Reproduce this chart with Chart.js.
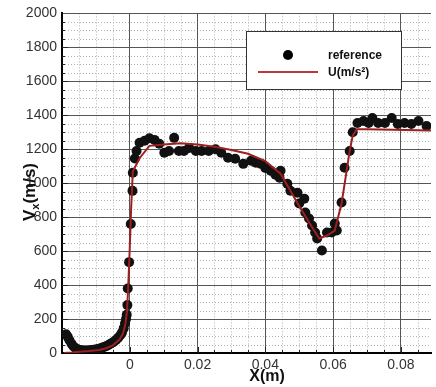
<!DOCTYPE html>
<html><head><meta charset="utf-8">
<script src="https://cdn.jsdelivr.net/npm/chart.js@4.4.1/dist/chart.umd.min.js"></script>
<style>html,body{margin:0;padding:0;background:#fff}canvas{display:block}</style>
</head><body>
<canvas id="c" width="436" height="387"></canvas>
<script>
// reference data (black dots)
const refX = [-0.0188,-0.0183,-0.0178,-0.0172,-0.0166,-0.0160,-0.0154,-0.0148,-0.0142,-0.0136,-0.0130,-0.0124,-0.0118,-0.0112,-0.0106,-0.0100,-0.0094,-0.0088,-0.0082,-0.0076,-0.0070,-0.0064,-0.0058,-0.0052,-0.0046,-0.0040,-0.0034,-0.0028,-0.0023,-0.0018,-0.0014,-0.0011,-0.0009,-0.0007,-0.0006,-0.0002,0.0003,0.0008,0.0009,0.0015,0.0020,0.0029,0.0044,0.0058,0.0073,0.0087,0.0102,0.0116,0.0131,0.0145,0.0160,0.0175,0.0195,0.0212,0.0233,0.0253,0.0270,0.0290,0.0311,0.0335,0.0358,0.0372,0.0387,0.0400,0.0416,0.0430,0.0442,0.0445,0.0465,0.0474,0.0495,0.0500,0.0515,0.0518,0.0529,0.0538,0.0547,0.0553,0.0567,0.0582,0.0596,0.0605,0.0611,0.0625,0.0634,0.0649,0.0658,0.0672,0.0690,0.0705,0.0716,0.0733,0.0753,0.0773,0.0791,0.0811,0.0831,0.0852,0.0876];
const refY = [110,95,75,55,38,28,22,18,16,15,15,15,16,17,19,21,24,27,31,35,40,46,53,60,68,78,90,105,120,145,175,200,225,282,380,535,760,955,1062,1145,1190,1238,1250,1265,1255,1232,1180,1190,1267,1190,1190,1208,1190,1190,1190,1200,1179,1150,1144,1114,1132,1120,1114,1090,1073,1050,1032,1073,997,956,944,880,909,827,792,751,710,674,604,710,710,762,721,886,1091,1190,1300,1355,1366,1355,1384,1355,1355,1384,1349,1355,1349,1366,1337];
// U(m/s^2) curve
const lineX = [-0.0195,-0.017,-0.015,-0.012,-0.009,-0.007,-0.005,-0.003,-0.002,-0.0013,-0.0008,-0.0004,0,0.0004,0.0009,0.003,0.0058,0.010,0.015,0.020,0.025,0.030,0.0349,0.040,0.0445,0.0503,0.0544,0.0559,0.0582,0.0605,0.0625,0.064,0.0649,0.0658,0.0670,0.0700,0.0889];
const lineY = [0,3,8,12,18,28,45,80,115,170,250,420,620,850,1070,1150,1220,1228,1235,1228,1215,1195,1173,1130,1056,856,721,674,692,721,880,1073,1190,1280,1318,1318,1310];
const xTicks = [0,0.02,0.04,0.06,0.08];
const xTickLabels = ['0','0.02','0.04','0.06','0.08'];
const yTicks = [0,200,400,600,800,1000,1200,1400,1600,1800,2000];
const yTickLabels = ['0','200','400','600','800','1000','1200','1400','1600','1800','2000'];
const seriesNames = ['reference','U(m/s\u00B2)'];

const FONT = '"Liberation Sans", Arial, sans-serif';

const decor = {
  id: 'decor',
  beforeDraw(chart) {
    const {ctx, chartArea: a, scales: {x, y}} = chart;
    ctx.save();
    ctx.fillStyle = '#fff';
    ctx.fillRect(0, 0, chart.width, chart.height);
    ctx.strokeStyle = '#b0b0b0';
    ctx.lineWidth = 1;
    ctx.setLineDash([1, 2]);
    ctx.beginPath();
    for (let v = -0.015; v < 0.089; v += 0.005) {
      const r = Math.round(v * 1000) / 1000;
      if (Math.abs(r / 0.02 - Math.round(r / 0.02)) < 1e-6) continue;
      const px = Math.round(x.getPixelForValue(r)) + 0.5;
      ctx.moveTo(px, a.top); ctx.lineTo(px, a.bottom);
    }
    for (let v = 50; v < 2000; v += 50) {
      if (v % 200 === 0) continue;
      const py = Math.round(y.getPixelForValue(v)) + 0.5;
      ctx.moveTo(a.left, py); ctx.lineTo(a.right, py);
    }
    ctx.stroke();
    ctx.restore();
  },
  beforeDatasetsDraw(chart) {
    const {ctx, chartArea: a, scales: {x, y}} = chart;
    ctx.save();
    ctx.strokeStyle = '#222';
    ctx.lineWidth = 1;
    ctx.beginPath();
    for (let v = -0.015; v < 0.089; v += 0.005) {
      const r = Math.round(v * 1000) / 1000;
      const major = Math.abs(r / 0.02 - Math.round(r / 0.02)) < 1e-6;
      const px = Math.round(x.getPixelForValue(r)) + 0.5;
      ctx.moveTo(px, a.bottom); ctx.lineTo(px, a.bottom - (major ? 6 : 3));
    }
    for (let v = 50; v < 2000; v += 50) {
      const py = Math.round(y.getPixelForValue(v)) + 0.5;
      ctx.moveTo(a.left, py); ctx.lineTo(a.left + (v % 200 === 0 ? 6 : 3), py);
    }
    ctx.stroke();
    ctx.restore();
  },
  afterDraw(chart) {
    const {ctx, chartArea: a, scales: {x}} = chart;
    ctx.save();
    // x title
    ctx.fillStyle = '#111';
    ctx.font = 'bold 16px ' + FONT;
    ctx.textAlign = 'center';
    ctx.textBaseline = 'middle';
    ctx.fillText('X(m)', x.getPixelForValue(0.0405), 377);
    // y title with subscript
    ctx.translate(29, 192);
    ctx.rotate(-Math.PI / 2);
    const big = 'bold 17px ' + FONT, small = 'bold 11px ' + FONT;
    ctx.font = big; const wV = ctx.measureText('V').width; const wR = ctx.measureText('(m/s)').width;
    ctx.font = small; const wx = ctx.measureText('x').width;
    let sx = -(wV + wx + wR) / 2;
    ctx.textAlign = 'left'; ctx.textBaseline = 'alphabetic';
    ctx.font = big; ctx.fillText('V', sx, 6); sx += wV;
    ctx.font = small; ctx.fillText('x', sx, 10); sx += wx;
    ctx.font = big; ctx.fillText('(m/s)', sx, 6);
    ctx.setTransform(1, 0, 0, 1, 0, 0);
    // legend
    ctx.fillStyle = '#fff';
    ctx.fillRect(246, 31, 156, 59);
    ctx.strokeStyle = '#333';
    ctx.lineWidth = 1;
    ctx.strokeRect(246.5, 31.5, 155, 58);
    ctx.fillStyle = '#000';
    ctx.beginPath(); ctx.arc(288, 55, 5, 0, Math.PI * 2); ctx.fill();
    ctx.strokeStyle = '#b83a3a'; ctx.lineWidth = 2;
    ctx.beginPath(); ctx.moveTo(258, 72); ctx.lineTo(318, 72); ctx.stroke();
    ctx.fillStyle = '#111';
    ctx.font = 'bold 12px ' + FONT;
    ctx.textAlign = 'left'; ctx.textBaseline = 'middle';
    ctx.fillText(seriesNames[0], 328, 56);
    ctx.fillText(seriesNames[1], 328, 73);
    ctx.restore();
  }
};

new Chart(document.getElementById('c'), {
  type: 'scatter',
  data: {
    datasets: [
      {
        label: seriesNames[1],
        data: lineX.map((v, i) => ({x: v, y: lineY[i]})),
        showLine: true,
        borderColor: '#9e1f1f',
        borderWidth: 2,
        pointRadius: 0,
        tension: 0,
        order: 0
      },
      {
        label: seriesNames[0],
        data: refX.map((v, i) => ({x: v, y: refY[i]})),
        backgroundColor: '#111',
        borderWidth: 0,
        pointRadius: 5,
        pointHoverRadius: 5,
        order: 1
      }
    ]
  },
  options: {
    responsive: false,
    animation: false,
    devicePixelRatio: 1,
    layout: {padding: {top: 12, right: 0, bottom: 0, left: 0}},
    plugins: {legend: {display: false}, tooltip: {enabled: false}},
    scales: {
      x: {
        type: 'linear', position: 'bottom', min: -0.02, max: 0.0889,
        afterBuildTicks: s => { s.ticks = xTicks.map(v => ({value: v})); },
        afterFit: s => { s.height = 34; },
        ticks: {
          callback: (v, i) => xTickLabels[i],
          font: {family: FONT, size: 14}, color: '#333', padding: 4, maxRotation: 0, autoSkip: false
        },
        grid: {color: '#555', lineWidth: 1, drawTicks: false},
        border: {color: '#000', width: 2}
      },
      y: {
        type: 'linear', position: 'left', min: 0, max: 2000,
        afterBuildTicks: s => { s.ticks = yTicks.map(v => ({value: v})); },
        afterFit: s => { s.width = 62; },
        ticks: {
          callback: (v, i) => yTickLabels[i],
          font: {family: FONT, size: 14}, color: '#333', padding: 5, autoSkip: false
        },
        grid: {color: '#555', lineWidth: 1, drawTicks: false},
        border: {color: '#000', width: 2}
      }
    }
  },
  plugins: [decor]
});
</script>
</body></html>
